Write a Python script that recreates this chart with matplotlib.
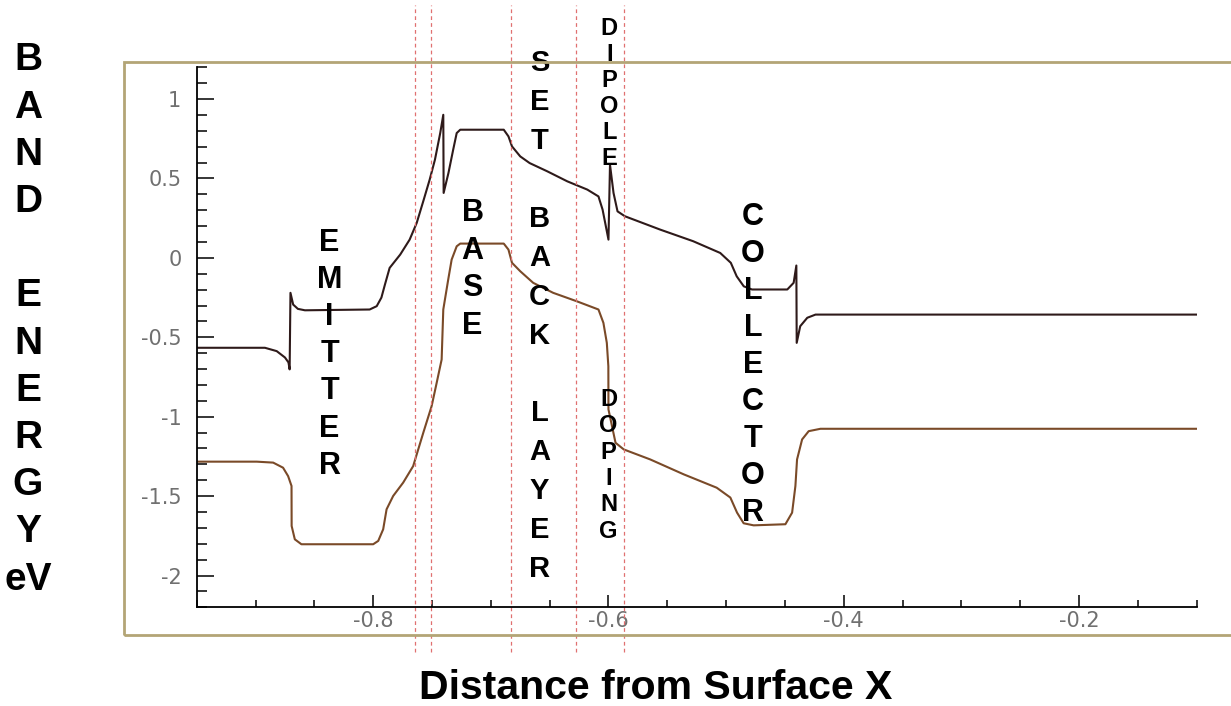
import matplotlib
matplotlib.use("Agg")
import matplotlib.pyplot as plt
from matplotlib.ticker import MultipleLocator, FuncFormatter
from matplotlib.patches import Rectangle

plt.rcParams['font.family'] = ['Liberation Sans', 'DejaVu Sans']
plt.rcParams['axes.unicode_minus'] = False

# conduction band (upper curve)
cb_x = [-0.950, -0.892, -0.882, -0.875, -0.872, -0.871, -0.8703, -0.868, -0.864, -0.858,
        -0.803, -0.797, -0.793, -0.790, -0.786, -0.777, -0.769, -0.763, -0.757, -0.752,
        -0.7475, -0.743, -0.7404, -0.7401, -0.736, -0.732, -0.729, -0.726, -0.689, -0.685,
        -0.682, -0.675, -0.667, -0.652, -0.635, -0.618, -0.6085, -0.605, -0.600, -0.5987,
        -0.5957, -0.5923, -0.586, -0.556, -0.528, -0.505, -0.496, -0.491, -0.485, -0.478,
        -0.448, -0.4426, -0.4403, -0.4400, -0.437, -0.431, -0.424, -0.100]
cb_y = [-0.566, -0.566, -0.587, -0.627, -0.658, -0.702, -0.220, -0.294, -0.321, -0.330,
        -0.325, -0.304, -0.250, -0.168, -0.063, 0.021, 0.115, 0.220, 0.367, 0.492,
        0.618, 0.786, 0.901, 0.409, 0.535, 0.681, 0.786, 0.807, 0.807, 0.765,
        0.702, 0.639, 0.597, 0.545, 0.482, 0.430, 0.387, 0.304, 0.115, 0.587,
        0.409, 0.293, 0.262, 0.178, 0.105, 0.031, -0.031, -0.116, -0.179, -0.199,
        -0.199, -0.157, -0.048, -0.535, -0.430, -0.377, -0.357, -0.357]

# valence band (lower curve)
vb_x = [-0.950, -0.899, -0.885, -0.8766, -0.8723, -0.8694, -0.8693, -0.8666, -0.861, -0.800,
        -0.7957, -0.7915, -0.7886, -0.783, -0.7745, -0.766, -0.7574, -0.7503, -0.746, -0.7418,
        -0.7404, -0.7362, -0.7333, -0.729, -0.726, -0.689, -0.685, -0.682, -0.675, -0.664,
        -0.647, -0.627, -0.6085, -0.6043, -0.6014, -0.6001, -0.6000, -0.597, -0.594, -0.587,
        -0.5645, -0.536, -0.508, -0.4964, -0.4907, -0.4851, -0.4766, -0.4496, -0.4439, -0.4411,
        -0.4397, -0.4354, -0.4298, -0.4198, -0.100]
vb_y = [-1.283, -1.283, -1.289, -1.321, -1.374, -1.436, -1.688, -1.772, -1.803, -1.803,
        -1.782, -1.709, -1.583, -1.499, -1.415, -1.311, -1.101, -0.933, -0.786, -0.640,
        -0.325, -0.136, -0.011, 0.073, 0.090, 0.090, 0.052, -0.031, -0.084, -0.157,
        -0.220, -0.273, -0.325, -0.409, -0.535, -0.682, -0.954, -1.059, -1.164, -1.206,
        -1.269, -1.363, -1.447, -1.509, -1.604, -1.671, -1.684, -1.677, -1.604, -1.436,
        -1.269, -1.143, -1.091, -1.076, -1.076]

# layer boundaries
boundaries = [-0.7645, -0.751, -0.683, -0.6275, -0.5866]

fig = plt.figure(figsize=(12.31, 7.06), dpi=100)
W, H = 1231, 706

# olive frame round the plot
fig.patches.append(Rectangle((124 / W, 1 - 635 / H), 1200 / W, (635 - 62) / H,
                             transform=fig.transFigure, fill=False,
                             edgecolor='#b3a576', linewidth=2))

ax = fig.add_axes([196.7 / W, 1 - 607.3 / H, 1000 / W, 540 / H])
ax.set_facecolor('none')

ax.plot(cb_x, cb_y, color='#2e1a1a', linewidth=1.5)
ax.plot(vb_x, vb_y, color='#7a4a28', linewidth=1.5)

for b in boundaries:
    ax.axvline(b, ymin=-0.083, ymax=1.115, clip_on=False, color='#e07070',
               linestyle=(0, (3, 2.5)), linewidth=0.9)

ax.set_xlim(-0.95, -0.1)
ax.set_ylim(-2.2, 1.2)
for s in ('top', 'right'):
    ax.spines[s].set_visible(False)
for s in ('left', 'bottom'):
    ax.spines[s].set_linewidth(1.3)

ax.xaxis.set_major_locator(MultipleLocator(0.2))
ax.xaxis.set_minor_locator(MultipleLocator(0.05))
ax.yaxis.set_major_locator(MultipleLocator(0.5))
ax.yaxis.set_minor_locator(MultipleLocator(0.1))
ax.xaxis.set_major_formatter(FuncFormatter(lambda v, p: '%g' % round(v, 2)))
ax.yaxis.set_major_formatter(FuncFormatter(lambda v, p: '%g' % round(v, 2)))
ax.tick_params(axis='both', which='both', direction='in', width=1.1,
               labelsize=15, labelcolor='#707070')
for lab in ax.get_xticklabels() + ax.get_yticklabels():
    lab.set_family('DejaVu Sans')
ax.tick_params(axis='y', which='major', length=12, pad=11)
ax.tick_params(axis='y', which='minor', length=7)
ax.tick_params(axis='x', which='major', length=8.5, pad=3)
ax.tick_params(axis='x', which='minor', length=5)


def stack(word, x, y0, step, size):
    # write a word downwards, one letter under the other
    for i, ch in enumerate(word):
        if ch != ' ':
            ax.text(x, y0 - i * step, ch, ha='center', va='center', fontsize=size,
                    fontweight='bold', color='black', clip_on=False)


stack("EMITTER", -0.837, 0.095, 0.234, 22)
stack("BASE", -0.7155, 0.28, 0.236, 22)
stack("SET BACK LAYER", -0.6585, 1.226, 0.245, 21)
stack("DIPOLE", -0.5993, 1.446, 0.164, 17)
stack("DOPING", -0.5999, -0.891, 0.166, 17)
stack("COLLECTOR", -0.4772, 0.26, 0.233, 22)

left = "B\nA\nN\nD\n\nE\nN\nE\nR\nG\nY\neV"
fig.text(28 / W, 1 - 320 / H, left, ha='center', va='center', fontsize=28,
         fontweight='bold', linespacing=1.40)
fig.text(656 / W, 1 - 688 / H, "Distance from Surface X", ha='center', va='center',
         fontsize=29.5, fontweight='bold')

fig.savefig("out.png", dpi=100)
